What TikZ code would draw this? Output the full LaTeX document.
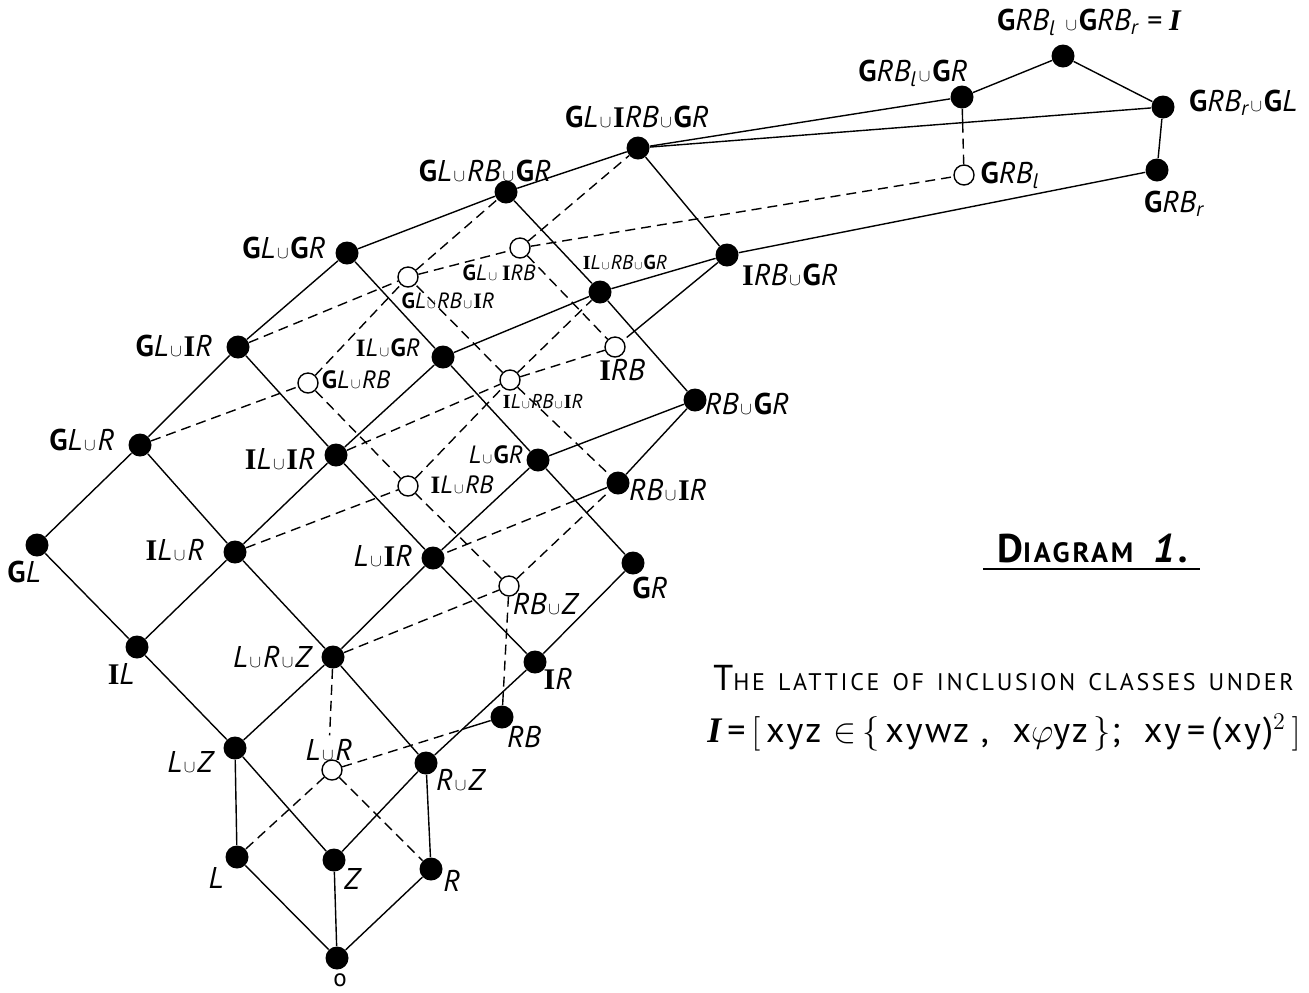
\documentclass[tikz,border=0pt]{standalone}
\usepackage{fontspec}
\usepackage{graphicx}
\setmainfont{PT Sans}
\newfontfamily\lsfont{Liberation Serif}
\newcommand\bG{\textbf{\upshape G}}
\newcommand\bI{{\lsfont\bfseries\upshape I}}
\newcommand\uu{\kern0.06em\scalebox{0.6}{$\cup$}\kern0.06em}
\newcommand\sbl{\textsubscript{l}}
\newcommand\sbr{\textsubscript{r}}
\newcommand\wg{\hspace{6.5pt}}
\begin{document}
\begin{tikzpicture}[x=0.5pt,y=-0.5pt,
 dot/.style={circle,fill=black,inner sep=0pt,minimum size=11.5pt},
 odot/.style={circle,draw=black,fill=white,line width=0.7pt,inner sep=0pt,minimum size=10pt},
 ln/.style={line width=0.7pt},
 dl/.style={line width=0.7pt,dash pattern=on 5pt off 3pt},
 lab/.style={inner sep=0pt,font=\fontsize{15}{15}\selectfont\itshape},
 labm/.style={inner sep=0pt,font=\fontsize{12.5}{12.5}\selectfont\itshape},
 labs/.style={inner sep=0pt,font=\fontsize{11}{11}\selectfont\itshape},
 labxs/.style={inner sep=0pt,font=\fontsize{10}{10}\selectfont\itshape}]
\useasboundingbox (0,0) rectangle (1309,992);
% ---------- nodes
\node[dot] (O) at (337,958) {};
\node[dot] (L) at (237,857) {};
\node[dot] (Z) at (334,860) {};
\node[dot] (R) at (431,869) {};
\node[dot] (LuZ) at (235,748) {};
\node[odot] (LuR) at (332,770) {};
\node[dot] (RuZ) at (426,763) {};
\node[dot] (LuRuZ) at (333,657) {};
\node[dot] (IL) at (137,647) {};
\node[dot] (RB) at (502,717) {};
\node[dot] (IR) at (535,662) {};
\node[odot] (RBuZ) at (509,586) {};
\node[dot] (GR) at (633,563) {};
\node[dot] (ILuR) at (235,552) {};
\node[dot] (GL) at (37,545) {};
\node[dot] (LuIR) at (433,558) {};
\node[dot] (GLuR) at (140,445) {};
\node[dot] (ILuIR) at (336,455) {};
\node[odot] (ILuRB) at (408,486) {};
\node[dot] (LuGR) at (538,460) {};
\node[dot] (RBuIR) at (618,483) {};
\node[dot] (RBuGR) at (695,400) {};
\node[dot] (GLuIR) at (238,347) {};
\node[odot] (GLuRB) at (308,383) {};
\node[dot] (ILuGR) at (443,357) {};
\node[odot] (ILuRBuIR) at (510,380) {};
\node[odot] (IRB) at (615,347) {};
\node[dot] (GLuGR) at (347,253) {};
\node[odot] (GLuRBuIR) at (408,277) {};
\node[odot] (GLuIRB) at (520,248) {};
\node[dot] (ILuRBuGR) at (600,292) {};
\node[dot] (IRBuGR) at (727,255) {};
\node[dot] (GLuRBuGR) at (506,192) {};
\node[dot] (GLuIRBuGR) at (638,148) {};
\node[dot] (GRBluGR) at (962,97) {};
\node[odot] (GRBl) at (964,175) {};
\node[dot] (Top) at (1063,56) {};
\node[dot] (GRBruGL) at (1163,107) {};
\node[dot] (GRBr) at (1157,170) {};
% ---------- labels
\node[lab] (tGLuGR) at (284,248) {\bG L\uu\bG R};
\node[lab] (tGLuIR) at (174,346) {\bG L\uu\bI R};
\node[lab] (tGLuR) at (82,440) {\bG L\uu R};
\node[lab] (tGL) at (24,572) {\bG L};
\node[lab] (tILuR) at (175,550) {\bI L\uu R};
\node[lab] (tIL) at (121,674) {\bI L};
\node[lab] (tLuRuZ) at (272,657) {L\uu R\uu Z};
\node[lab] (tLuZ) at (190,762) {L\uu Z};
\node[lab,outer sep=2pt] (tLuR) at (329,750) {L\uu R};
\node[lab] (tRuZ) at (460,780) {R\uu Z};
\node[lab] (tL) at (216,878) {L};
\node[lab] (tZ) at (352,879) {Z};
\node[lab] (tR) at (452,881) {R};
\node[labm,font=\fontsize{12.5}{12.5}\selectfont\upshape] (tO) at (340,980) {o};
\node[lab] (tLuIR) at (383,556) {L\uu\bI R};
\node[lab] (tILuIR) at (280,459) {\bI L\uu\bI R};
\node[labm] (tILuRB) at (462,485) {\bI L\uu RB};
\node[labm] (tLuGR) at (496,455) {L\uu\bG R};
\node[lab] (tRBuIR) at (668,490) {RB\uu\bI R};
\node[lab] (tGR) at (650,588) {\bG R};
\node[lab] (tIR) at (558,679) {\bI R};
\node[lab] (tRBuZ) at (545,604) {RB\uu Z};
\node[lab] (tRB) at (524,737) {RB};
\node[lab] (tRBuGR) at (747,404) {RB\uu\bG R};
\node[lab] (tIRBuGR) at (790,275) {\bI RB\uu\bG R};
\node[lab] (tIRB) at (622,370) {\bI RB};
\node[labxs] (tILuRBuIR) at (543,401) {\bI L\uu RB\uu\bI R};
\node[labm] (tILuGR) at (388,348) {\bI L\uu\bG R};
\node[labm] (tGLuRB) at (356,380) {\bG L\uu RB};
\node[labs] (tGLuRBuIR) at (448,301) {\bG L\uu RB\uu\bI R};
\node[labs] (tGLuIRB) at (499,273) {\bG L\uu\,\bI RB};
\node[labxs] (tILuRBuGR) at (625,262) {\bI L\uu RB\uu\bG R};
\node[lab] (tGLuRBuGR) at (485,171) {\bG L\uu RB\uu\bG R};
\node[lab] (tGLuIRBuGR) at (637,117) {\bG L\uu\bI RB\uu\bG R};
\node[lab] (tGRBluGR) at (913,73) {\bG RB\sbl\uu\bG R};
\node[lab] (tGRBl) at (1010,175) {\bG RB\sbl};
\node[lab] (tTop) at (1089,22) {\bG RB\sbl\ \uu\bG RB\sbr\ = {\lsfont\bfseries\itshape I}};
\node[lab] (tGRBruGL) at (1243,103) {\bG RB\sbr\uu\bG L};
\node[lab] (tGRBr) at (1174,204) {\bG RB\sbr};
% ---------- solid edges
\foreach \a/\b in {O/L,O/Z,O/R,L/LuZ,R/RuZ,Z/LuZ,Z/RuZ,LuZ/LuRuZ,RuZ/LuRuZ,IL/LuZ,IL/ILuR,GL/IL,GL/GLuR,GLuR/ILuR,GLuR/GLuIR,ILuR/LuRuZ,ILuR/ILuIR,LuRuZ/LuIR,RuZ/IR,LuIR/IR,IR/GR,GR/LuGR,LuIR/ILuIR,LuIR/LuGR,ILuIR/GLuIR,ILuIR/ILuGR,GLuIR/GLuGR,ILuGR/GLuGR,ILuGR/LuGR,ILuGR/ILuRBuGR,LuGR/RBuGR,RBuGR/RBuIR,RBuGR/ILuRBuGR,GLuGR/GLuRBuGR,GLuRBuGR/ILuRBuGR,GLuRBuGR/GLuIRBuGR,ILuRBuGR/IRBuGR,GLuIRBuGR/IRBuGR,IRBuGR/GRBr,GLuIRBuGR/GRBluGR,GLuIRBuGR/GRBruGL,GRBluGR/Top,Top/GRBruGL,GRBruGL/GRBr}
  \draw[ln] (\a) -- (\b);
% ---------- dashed edges
\foreach \a/\b in {LuR/L,LuR/R,LuRuZ/RBuZ,RBuZ/ILuRB,RBuZ/RBuIR,ILuR/ILuRB,ILuRB/GLuRB,ILuRB/ILuRBuIR,ILuIR/ILuRBuIR,ILuRBuIR/RBuIR,ILuRBuIR/IRB,ILuRBuIR/ILuRBuGR,ILuRBuIR/GLuRBuIR,GLuR/GLuRB,GLuRB/GLuRBuIR,GLuIR/GLuRBuIR,GLuRBuIR/GLuRBuGR,GLuRBuIR/GLuIRB,GLuIRB/GLuIRBuGR,GLuIRB/IRB,GLuIRB/GRBl}
  \draw[dl] (\a) -- (\b);
\draw[dl] (LuRuZ) -- (tLuR);
% ---------- edges partly hidden
\coordinate (x1) at (intersection of IRBuGR--IRB and ILuRBuGR--RBuGR);
\coordinate (x2) at (intersection of RBuIR--LuIR and LuGR--GR);
\coordinate (x3) at (intersection of GRBluGR--GRBl and GLuIRBuGR--GRBruGL);
\coordinate (j1) at (intersection of LuR--RB and RuZ--IR);
\coordinate (j2) at (intersection of RBuZ--RB and RuZ--IR);
\draw[ln] (IRBuGR) -- (x1); \draw[dl] (x1) -- (IRB);
\draw[ln] (RBuIR) -- (x2); \draw[dl] (x2) -- (LuIR);
\draw[ln] (GRBluGR) -- (x3); \draw[dl] (x3) -- (GRBl);
\draw[dl] (LuR) -- (j1); \draw[ln] (j1) -- (RB);
\draw[dl] (RBuZ) -- (j2); \draw[ln] (j2) -- (RB);
% ---------- title and caption
\node[inner sep=0pt] (title) at (1093,548) {\addfontfeature{LetterSpace=10}\fontsize{20}{20}\selectfont\bfseries D\fontsize{14}{14}\selectfont IAGRAM\ \ \fontsize{20}{20}\selectfont\itshape 1.};
\coordinate (uA) at (983,569);
\coordinate (uB) at (1200,569);
\draw[line width=0.8pt] (uA) -- (uB);
\node[inner sep=0pt,anchor=base west] (cap1) at (713,690) {\addfontfeature{LetterSpace=11}\fontsize{18}{18}\selectfont T\fontsize{12}{12}\selectfont HE\wg LATTICE\wg OF\wg INCLUSION\wg CLASSES\wg UNDER};
\node[inner sep=0pt,anchor=base west] (cap2) at (707,742) {\addfontfeature{LetterSpace=6}\fontsize{18}{18}\selectfont {\lsfont\bfseries\itshape I}\,=\,$\Bigl[$\,xyz\ $\in$\,$\Bigl\{$\,xywz\ ,\ \ x$\varphi$yz\,$\Bigr\}$;\ \ xy\,=\,(xy)$^2$\,$\Bigr]$};
\end{tikzpicture}
\end{document}
